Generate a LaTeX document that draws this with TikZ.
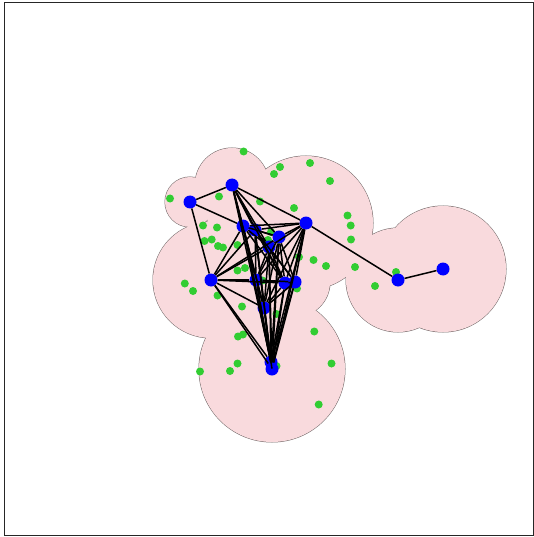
\documentclass[tikz,border=0pt]{standalone}
\definecolor{pinkfill}{RGB}{249,218,221}
\definecolor{greendot}{RGB}{50,205,50}
\definecolor{outl}{RGB}{110,100,100}
\tikzset{
  bn/.style={circle,fill=blue,minimum size=13pt,inner sep=0pt,draw=none},
  gdot/.style={fill=greendot},
  edge/.style={black,line width=1.5pt},
}
\begin{document}
\begin{tikzpicture}[x=1pt,y=-1pt]
\useasboundingbox (0,0) rectangle (534,537);
\draw[line width=1pt,black!85] (4.5,2.5) rectangle (533.5,535.5);
% union of disks: outline then fill
\foreach \cx/\cy/\r in {190/202/25,232/185/37,306/223/67,211/280/58,295/282/35,272/369/73,398/280/52,443/269/63,243/226/36}
  \draw[outl,line width=1pt] (\cx,\cy) circle[radius=\r pt];
\foreach \cx/\cy/\r in {190/202/25,232/185/37,306/223/67,211/280/58,295/282/35,272/369/73,398/280/52,443/269/63,243/226/36}
  \fill[pinkfill] (\cx,\cy) circle[radius=\r pt];
% green points
\foreach \gx/\gy in {243.6/151.5,310/163,280/167,274/174,330/181,170/198.5,219/196.5,260/201.5,294/208,
  347.5/215.5,350.7/225.5,351/239.5,203/225.5,217/227.5,204.5/241,211.7/239.5,218/246,223/247.5,237.5/245,
  271/232,268/240,299/257,313.5/260,326/266,355/267,396/272,375/286,237.5/270.5,245/268,184.8/283.5,
  193/291,217.5/295.5,262.5/280.5,297/288.5,242/306.5,276.5/314,314.3/331.5,238/336.5,243/334.5,
  237.5/363.5,230/371,200/371.5,331.5/363.5,276.5/366,318.7/404.5}
  \fill[gdot] (\gx,\gy) circle[radius=4pt];
% blue nodes
\node[bn] (A) at (190,202) {};
\node[bn] (B) at (232,185) {};
\node[bn] (C) at (243,226) {};
\node[bn] (D) at (255,230) {};
\node[bn] (E) at (279,237) {};
\node[bn] (F) at (269,247) {};
\node[bn] (G) at (306,223) {};
\node[bn] (H) at (211,280) {};
\node[bn] (I) at (256,280) {};
\node[bn] (J) at (285,283) {};
\node[bn] (K) at (295,282) {};
\node[bn] (L) at (264,308) {};
\node[bn] (M) at (271,362) {};
\node[bn] (N) at (272,369) {};
\node[bn] (O) at (398,280) {};
\node[bn] (P) at (443,269) {};
% edges
\foreach \u/\v in {A/B,A/C,A/H,
  B/G,B/C,B/D,B/F,B/E,B/I,B/L,B/J,B/M,
  C/D,C/G,C/H,C/F,C/E,C/I,C/L,C/M,C/N,C/J,
  D/G,D/E,D/F,D/H,D/I,D/J,D/K,D/L,D/M,D/N,
  E/G,E/F,E/H,E/I,E/J,E/K,E/L,E/M,E/N,
  F/G,F/H,F/I,F/J,F/K,F/L,F/M,F/N,
  G/I,G/J,G/K,G/L,G/M,G/N,G/O,
  H/I,H/J,H/L,H/M,H/N,
  I/J,I/K,I/L,I/M,I/N,
  J/K,J/L,J/M,J/N,
  K/L,K/M,K/N,
  L/M,L/N,M/N,O/P}
  \draw[edge] (\u) -- (\v);
\end{tikzpicture}
\end{document}
